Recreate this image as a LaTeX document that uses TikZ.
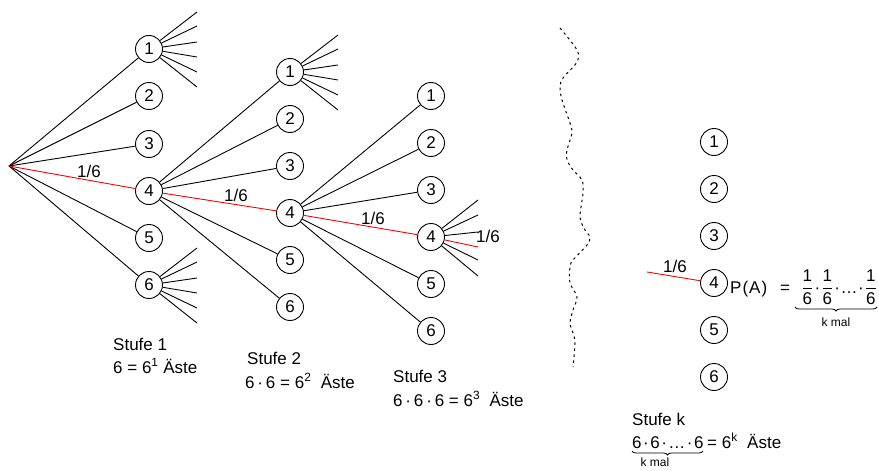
\documentclass[tikz,border=0pt]{standalone}
\usepackage{fontspec}
\setmainfont{Liberation Sans}
\usetikzlibrary{decorations.pathreplacing}
\newcommand\myfrac{\ensuremath{\displaystyle\frac{\mbox{1}}{\mbox{6}}}}
\begin{document}
\begin{tikzpicture}[x=1pt,y=-1pt,
  every node/.style={font=\fontsize{17}{20}\selectfont, inner sep=0pt},
  num/.style={circle,draw,minimum size=27pt,line width=0.9pt},
  ln/.style={line width=0.9pt},
  rd/.style={line width=0.9pt,red},
  lbl/.style={anchor=base west},
  small/.style={font=\fontsize{12}{14}\selectfont},
  wavy/.style={line width=1pt,dash pattern=on 2.5pt off 3.5pt}]
\useasboundingbox (0,0) rectangle (879,471);

% root
\coordinate (r) at (9,166);

% level 1
\foreach \i/\y in {1/49,2/96,3/144,4/191,5/238,6/285}
  \node[num] (a\i) at (149,\y) {\i};
% level 2
\foreach \i/\y in {1/72,2/119,3/166,4/213,5/260,6/307}
  \node[num] (b\i) at (290,\y) {\i};
% level 3
\foreach \i/\y in {1/96,2/143,3/190,4/237,5/284,6/331}
  \node[num] (c\i) at (431,\y) {\i};
% level k
\foreach \i/\y in {1/142,2/189,3/236,4/283,5/330,6/377}
  \node[num] (d\i) at (714,\y) {\i};

% branches
\foreach \i in {1,2,3,5,6} {
  \draw[ln] (r) -- (a\i);
  \draw[ln] (a4) -- (b\i);
  \draw[ln] (b4) -- (c\i);
}
\draw[rd] (r) -- (a4);
\draw[rd] (a4) -- (b4);
\draw[rd] (b4) -- (c4);

% fans
\foreach \n in {a1,a6,b1} {
  \foreach \dy [count=\k] in {-37,-23,-7,8,23,38} {
    \path (\n.center) ++(48,\dy) coordinate (\n-e\k);
    \draw[ln] (\n) -- (\n-e\k);
  }
}
\foreach \dy [count=\k] in {-37,-22,-5,10,23,39} {
  \path (c4.center) ++(47,\dy) coordinate (c4-e\k);
}
\foreach \k in {1,2,3,5,6} \draw[ln] (c4) -- (c4-e\k);
\draw[rd] (c4) -- (c4-e4);

% probability labels
\node (l1) at (89,171) {1/6};
\node (l2) at (236,195) {1/6};
\node (l3) at (373,218) {1/6};
\node[anchor=west] (l4) at (476,236) {1/6};

% right side red branch
\coordinate (din) at (647,272);
\draw[rd] (din) -- (d4);
\node (l5) at (675,266) {1/6};

% wavy separator
\draw[wavy] plot[smooth] coordinates {(560,28) (577,50) (577,62) (563,78) (560,87) (562,100) (570,123) (572,133) (567,150) (567,160) (573,170) (582,180) (583,193) (580,217) (585,230) (590,237) (587,245) (573,260) (570,267) (570,283) (577,297) (573,310) (570,323) (573,333) (575,343) (573,367)};

% stage texts
\node[lbl] (s1) at (113,350) {Stufe 1};
\node[lbl] (s1b) at (113,373) {6 = 6\textsuperscript{1} Äste};
\node[lbl] (s2) at (247,364) {Stufe 2};
\node[lbl] (s2b) at (245,388) {6\,·\,6 = 6\textsuperscript{2}\ \ Äste};
\node[lbl] (s3) at (393,382) {Stufe 3};
\node[lbl] (s3b) at (393,406) {6\,·\,6\,·\,6 = 6\textsuperscript{3}\ \ Äste};
\node[lbl] (sk) at (632,425) {Stufe k};
\node[lbl] (skp) at (632,448) {6\hspace{1.5pt}·\hspace{1.5pt}6\hspace{1.5pt}·\hspace{1.5pt}…\hspace{1.5pt}·\hspace{1.5pt}6};
\node[lbl] (ske) at (707,448) {= 6\textsuperscript{k}\ \ Äste};
\coordinate (bk1) at (632,451);
\coordinate (bk2) at (703,451);
\draw[ln,line width=0.8pt,decorate,decoration={brace,mirror,amplitude=4pt}] (bk1) -- (bk2);
\node[small] (km1) at (655,462) {k mal};

% P(A)
\node[lbl] (pa) at (730,293) {P\hspace{1pt}(\hspace{1pt}A\hspace{1pt})};
\node[lbl] (peq) at (780,293) {=};
\node[anchor=base east] (fr) at (877,293) {\myfrac\hspace{1.2pt}·\hspace{1.2pt}\myfrac\hspace{1.2pt}·\hspace{0.5pt}…\hspace{0.5pt}·\hspace{1.2pt}\myfrac};
\coordinate (bp1) at (795,307);
\coordinate (bp2) at (877,307);
\draw[ln,line width=0.8pt,decorate,decoration={brace,mirror,amplitude=4pt}] (bp1) -- (bp2);
\node[small] (km2) at (836,322) {k mal};
\end{tikzpicture}
\end{document}
